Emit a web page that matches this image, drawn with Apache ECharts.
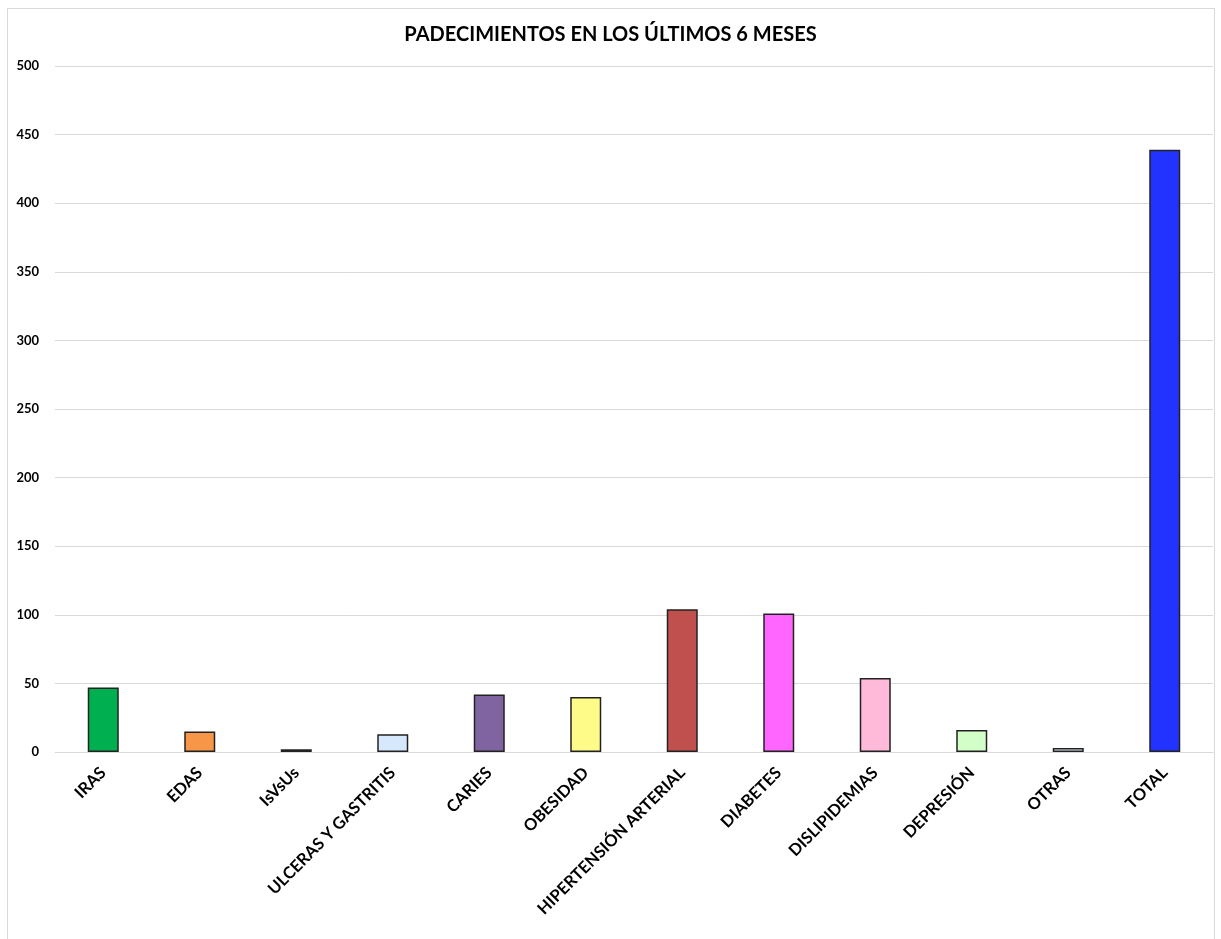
<!DOCTYPE html>
<html><head><meta charset="utf-8">
<script src="https://cdn.jsdelivr.net/npm/echarts@6/dist/echarts.min.js"></script>
<style>
html,body{margin:0;padding:0;background:#fff;}
#frame{position:absolute;left:7px;top:8px;width:1208px;height:940px;border:1px solid #d9d9d9;box-sizing:border-box;}
#c{position:absolute;left:0;top:0;width:1221px;height:939px;}
</style></head>
<body>
<div id="frame"></div>
<div id="c"></div>
<script>
const categories = ["IRAS","EDAS","IsVsUs","ULCERAS Y GASTRITIS","CARIES","OBESIDAD","HIPERTENSIÓN ARTERIAL","DIABETES","DISLIPIDEMIAS","DEPRESIÓN","OTRAS","TOTAL"];
const values = [47, 15, 2, 13, 42, 40, 104, 101, 54, 16, 3, 439];
const colors = ["#00B050","#F79646","#111111","#D6E8FB","#8064A2","#FFFB88","#C0504D","#FF66FF","#FFB9D9","#D2FFC8","#DDEBF7","#2233FF"];
const yTicks = [0,50,100,150,200,250,300,350,400,450,500];

const chart = echarts.init(document.getElementById('c'));
chart.setOption({
  animation:false,
  title:{text:"PADECIMIENTOS EN LOS ÚLTIMOS 6 MESES",left:'center',top:20,
    textStyle:{fontFamily:'Lato',fontWeight:'bold',fontSize:20,color:'#000'}},
  grid:{left:55,right:8,top:66,bottom:187,containLabel:false},
  xAxis:{type:'category',data:categories,
    axisLine:{show:true,lineStyle:{color:'#d9d9d9',width:1}},
    axisTick:{show:false},
    axisLabel:{rotate:45,interval:0,fontFamily:'Lato',fontWeight:'bold',fontSize:16.5,color:'#000',margin:18}},
  yAxis:{type:'value',min:yTicks[0],max:yTicks[yTicks.length-1],interval:50,
    axisLine:{show:false},axisTick:{show:false},
    splitLine:{lineStyle:{color:'#d9d9d9',width:1}},
    axisLabel:{fontFamily:'Lato',fontWeight:'bold',fontSize:13,color:'#000',margin:16}},
  series:[{type:'bar',barWidth:31,
    data:values.map((v,i)=>({value:v,itemStyle:{color:colors[i]}})),
    itemStyle:{borderColor:'#222',borderWidth:1.5}}]
});
</script>
</body></html>
